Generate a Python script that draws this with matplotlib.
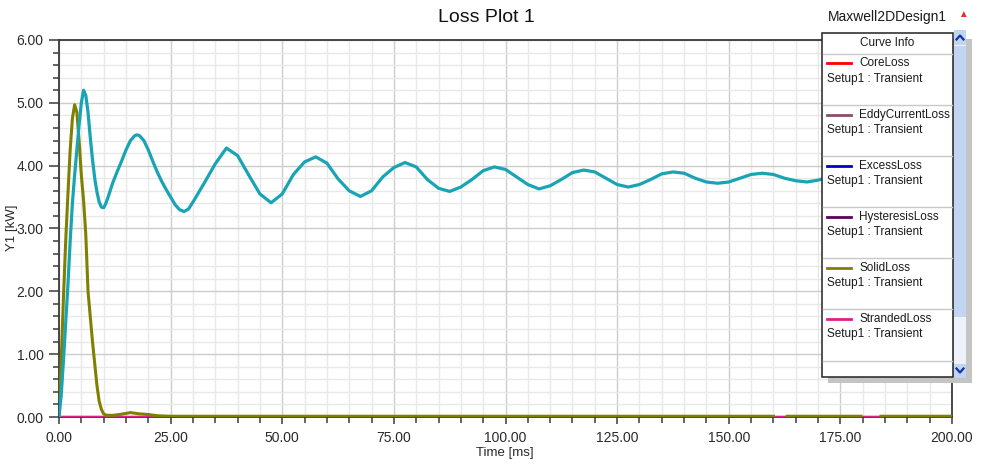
import numpy as np
import matplotlib
matplotlib.use("Agg")
import matplotlib.pyplot as plt
from matplotlib.patches import Rectangle
from matplotlib.ticker import MultipleLocator, FormatStrFormatter

plt.rcParams['font.family'] = ['Liberation Sans', 'DejaVu Sans']

# ---------------- data ----------------
title = "Loss Plot 1"
design_name = "Maxwell2DDesign1"
x_label = "Time [ms]"
y_label = "Y1 [kW]"

x_range = [0, 200]
y_range = [0, 6]

# total (teal) curve
total_t = [0, 0.5, 1, 1.5, 2, 2.5, 3, 3.5, 4, 4.5, 5, 5.5, 6, 6.5, 7, 7.5, 8, 8.5, 9, 9.5,
           10, 10.5, 11, 12, 13, 14, 15, 16, 17, 17.5, 18, 19, 20, 21, 22, 23, 24, 25, 26,
           27, 28, 29, 30, 32.5, 35, 37.5, 40, 42.5, 45, 47.5, 50, 52.5, 55, 57.5, 60, 62.5,
           65, 67.5, 70, 72.5, 75, 77.5, 80, 82.5, 85, 87.5, 90, 92.5, 95, 97.5, 100, 102.5,
           105, 107.5, 110, 112.5, 115, 117.5, 120, 122.5, 125, 127.5, 130, 132.5, 135, 137.5,
           140, 142.5, 145, 147.5, 150, 152.5, 155, 157.5, 160, 162.5, 165, 167.5, 170, 172.5,
           175, 177.5, 180, 182.5, 185, 187.5, 190, 192.5, 195, 197.5, 200]
total_loss = [0, 0.35, 0.9, 1.5, 2.1, 2.8, 3.4, 3.85, 4.25, 4.65, 5.0, 5.2, 5.12, 4.85, 4.45, 4.1,
              3.8, 3.58, 3.42, 3.34, 3.33, 3.4, 3.5, 3.72, 3.9, 4.07, 4.25, 4.4, 4.48, 4.49, 4.48,
              4.4, 4.25, 4.07, 3.9, 3.75, 3.62, 3.5, 3.38, 3.3, 3.27, 3.31, 3.42, 3.72, 4.03, 4.28,
              4.16, 3.85, 3.55, 3.41, 3.55, 3.86, 4.06, 4.14, 4.04, 3.79, 3.6, 3.51, 3.6, 3.82,
              3.97, 4.05, 3.98, 3.78, 3.64, 3.59, 3.66, 3.78, 3.92, 3.98, 3.94, 3.82, 3.7, 3.63,
              3.68, 3.78, 3.89, 3.93, 3.9, 3.8, 3.7, 3.66, 3.7, 3.78, 3.87, 3.9, 3.88, 3.8, 3.74,
              3.72, 3.74, 3.8, 3.86, 3.88, 3.86, 3.8, 3.76, 3.74, 3.77, 3.82, 3.85, 3.86, 3.84,
              3.8, 3.77, 3.76, 3.78, 3.82, 3.84, 3.85, 3.84]

# SolidLoss (olive)
solid_t = [0, 0.25, 0.5, 1, 1.5, 2, 2.5, 3, 3.5, 4, 4.5, 5, 5.5, 6, 6.5, 7, 7.5, 8, 8.5, 9,
           9.5, 10, 10.5, 12, 14, 16, 18, 20, 22, 25, 160, 160.1, 163.1, 179.6, 179.7, 184.1, 200]
solid_loss = [0, 0.4, 0.9, 1.9, 2.8, 3.55, 4.25, 4.75, 4.97, 4.85, 4.4, 3.85, 3.45, 2.9, 2.0,
              1.6, 1.2, 0.85, 0.5, 0.25, 0.12, 0.05, 0.03, 0.025, 0.045, 0.07, 0.05, 0.04, 0.02,
              0.012, 0.012, np.nan, 0.012, 0.012, np.nan, 0.012, 0.012]

# Other loss components (all zero)
zero_t = [0, 200]
core_loss = [0, 0]
eddy_current_loss = [0, 0]
excess_loss = [0, 0]
hysteresis_loss = [0, 0]
stranded_loss = [0, 0]

legend_names = ["CoreLoss", "EddyCurrentLoss", "ExcessLoss", "HysteresisLoss",
                "SolidLoss", "StrandedLoss"]
legend_sub = "Setup1 : Transient"
colors = {
    "CoreLoss": "#FF0000",
    "EddyCurrentLoss": "#8B4D6E",
    "ExcessLoss": "#0000D0",
    "HysteresisLoss": "#5C005C",
    "SolidLoss": "#808000",
    "StrandedLoss": "#E0208A",
}
total_color = "#18A4B4"

# ---------------- figure ----------------
W, H = 983, 469
fig = plt.figure(figsize=(W / 100, H / 100), dpi=100)
fig.patch.set_facecolor("white")

L, R, B, T = 59, 952, 417, 40
ax = fig.add_axes([L / W, 1 - B / H, (R - L) / W, (B - T) / H])

ax.plot(zero_t, core_loss, color=colors["CoreLoss"], lw=1.5, zorder=3)
ax.plot(zero_t, eddy_current_loss, color=colors["EddyCurrentLoss"], lw=1.5, zorder=3)
ax.plot(zero_t, excess_loss, color=colors["ExcessLoss"], lw=1.5, zorder=3)
ax.plot(zero_t, hysteresis_loss, color=colors["HysteresisLoss"], lw=1.5, zorder=3)
ax.plot(zero_t, stranded_loss, color=colors["StrandedLoss"], lw=1.6, zorder=4)
ax.plot(solid_t, solid_loss, color=colors["SolidLoss"], lw=2.2, zorder=5)
ax.plot(total_t, total_loss, color=total_color, lw=2.3, zorder=6)

ax.set_xlim(*x_range)
ax.set_ylim(*y_range)
ax.xaxis.set_major_locator(MultipleLocator(25))
ax.xaxis.set_minor_locator(MultipleLocator(5))
ax.yaxis.set_major_locator(MultipleLocator(1))
ax.yaxis.set_minor_locator(MultipleLocator(0.2))
ax.xaxis.set_major_formatter(FormatStrFormatter("%.2f"))
ax.yaxis.set_major_formatter(FormatStrFormatter("%.2f"))

ax.grid(which="major", color="#CCCCCC", lw=1.0, zorder=0)
ax.grid(which="minor", color="#E8E8E8", lw=1.0, zorder=0)
ax.set_axisbelow(True)

for s in ax.spines.values():
    s.set_color("#3A3A3A")
    s.set_linewidth(1.3)

ax.tick_params(axis="y", which="major", length=7.2, width=1.1, color="#3A3A3A",
               labelsize=10, labelcolor="#2A2A2A", pad=4)
ax.tick_params(axis="y", which="minor", length=4.3, width=1.1, color="#3A3A3A")
ax.tick_params(axis="x", which="major", length=5.2, width=1.1, color="#3A3A3A",
               labelsize=10, labelcolor="#2A2A2A", pad=5)
ax.tick_params(axis="x", which="minor", length=4.0, width=1.1, color="#3A3A3A")

fig.text(505 / W, 1 - 453 / H, x_label, ha="center", va="center", fontsize=9.5,
         color="#2A2A2A")
fig.text(12 / W, 1 - 228 / H, y_label, ha="center", va="center", rotation=90,
         fontsize=9.5, color="#2A2A2A")
fig.text(486 / W, 1 - 17 / H, title, ha="center", va="center", fontsize=14,
         color="#111111")
fig.text(828 / W, 1 - 17 / H, design_name, ha="left", va="center", fontsize=10,
         color="#1A1A1A")
fig.text(963 / W, 1 - 14 / H, "\u25B2", ha="center", va="center", fontsize=7,
         color="#E03030")

# ---------------- legend panel (pixel coordinates overlay) ----------------
ov = fig.add_axes([0, 0, 1, 1], zorder=10)
ov.set_xlim(0, W)
ov.set_ylim(H, 0)
ov.axis("off")
ov.patch.set_alpha(0)

bx0, by0, bx1, by1 = 822, 33, 953, 377
# shadow
ov.add_patch(Rectangle((bx0 + 6, by0 + 6), (bx1 - bx0) + 13, (by1 - by0), color="#C4C4C4", lw=0))
# box
ov.add_patch(Rectangle((bx0, by0), bx1 - bx0, by1 - by0, facecolor="white",
                       edgecolor="#222222", lw=1.1))
# scrollbar
sx0, sx1 = 954, 966
ov.add_patch(Rectangle((sx0, 30), sx1 - sx0, 348, facecolor="#EEF1F6", lw=0))
ov.add_patch(Rectangle((sx0, 46), sx1 - sx0, 271, facecolor="#C2D5F0", lw=0))
ov.add_patch(Rectangle((sx0, 30), sx1 - sx0, 15, facecolor="#C2D5F0", lw=0))
ov.add_patch(Rectangle((sx0, 364), sx1 - sx0, 14, facecolor="#C2D5F0", lw=0))
ov.plot([956.5, 960, 963.5], [39.5, 35.5, 39.5], color="#1030B0", lw=1.6)
ov.plot([956.5, 960, 963.5], [368.5, 372.5, 368.5], color="#1030B0", lw=1.6)

ov.text((bx0 + bx1) / 2, 43, "Curve Info", ha="center", va="center", fontsize=8.5,
        color="#1A1A1A")
sep0 = 54
step = 51.1
for i, name in enumerate(legend_names):
    ys = sep0 + i * step
    ov.plot([bx0 + 1, bx1 - 1], [ys, ys], color="#C8C8C8", lw=1.0)
    ov.plot([827, 851], [ys + 9.5, ys + 9.5], color=colors[name], lw=2.0)
    ov.text(859, ys + 9.5, name, ha="left", va="center", fontsize=8.5, color="#1A1A1A")
    ov.text(827, ys + 25, legend_sub, ha="left", va="center", fontsize=8.5, color="#1A1A1A")
ys = sep0 + len(legend_names) * step
ov.plot([bx0 + 1, bx1 - 1], [ys, ys], color="#C8C8C8", lw=1.0)

fig.savefig("out.png", dpi=100, facecolor="white")
